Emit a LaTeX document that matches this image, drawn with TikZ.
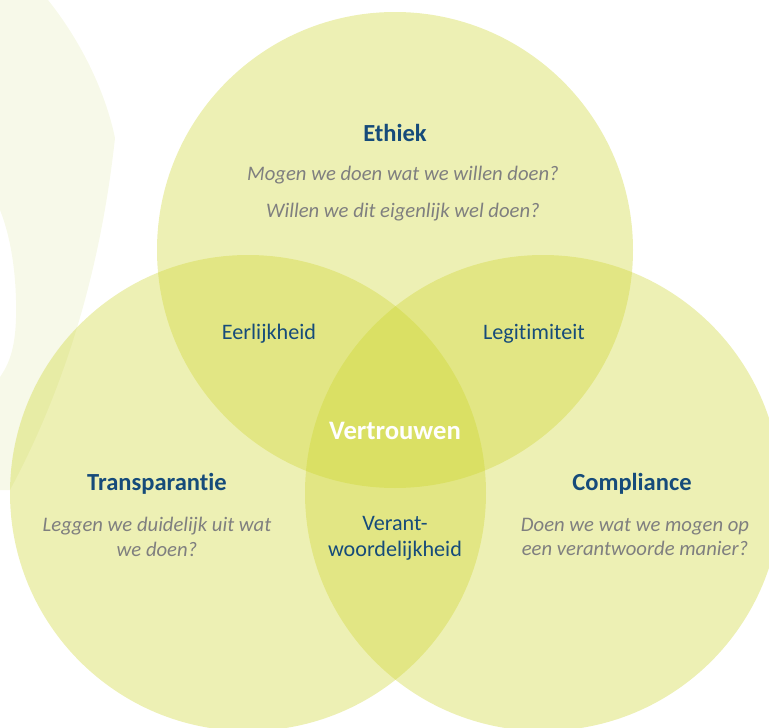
\documentclass[tikz,border=0pt]{standalone}
\usepackage{fontspec}
\setmainfont{Carlito}[Ligatures=NoCommon]
\definecolor{venGreen}{RGB}{204,212,41}
\definecolor{paleGreen}{RGB}{247,249,233}
\definecolor{titleBlue}{RGB}{22,75,122}
\definecolor{askGray}{RGB}{127,127,127}

\begin{document}
\begin{tikzpicture}[x=0.75pt,y=-0.75pt]
\tikzstyle{every node}=[font=\fontsize{16.6}{19.5}\selectfont, align=center]
\tikzstyle{circ}=[fill=venGreen, fill opacity=0.35]
\tikzstyle{title}=[text=titleBlue, font=\fontsize{18.4}{21}\selectfont\bfseries]
\tikzstyle{ask}=[text=askGray, font=\fontsize{15.5}{18.5}\selectfont\itshape]
\tikzstyle{pair}=[text=titleBlue]

  \useasboundingbox (0,0) rectangle (769,728);

  % faint band at the left
  \fill[paleGreen] (0,0) -- (48,0) .. controls (80,40) and (105,90) .. (115,138)
    .. controls (105,230) and (80,360) .. (10,490) -- (0,490) -- (0,377)
    .. controls (12,360) and (17,340) .. (16,300)
    .. controls (15,260) and (8,230) .. (0,210) -- cycle;

  \fill[circ] (395,250) circle (178.5pt);
  \fill[circ] (248,493) circle (178.5pt);
  \fill[circ] (543,493) circle (178.5pt);

  \node[title] (ethiek) at (395,133) {Ethiek};
  \node[ask] (ethiekA) at (403,175) {Mogen we doen wat we willen doen?};
  \node[ask] (ethiekB) at (403,212) {Willen we dit eigenlijk wel doen?};

  \node[title] (transp) at (157,484) {Transparantie};
  \node[ask] (transpA) at (157,537) {Leggen we duidelijk uit wat\\we doen?};

  \node[title] (compl) at (632,484) {Compliance};
  \node[ask] (complA) at (635,537) {Doen we wat we mogen op\\een verantwoorde manier?};

  \node[pair] (eerlijk) at (269,334) {Eerlijkheid};
  \node[pair] (legitiem) at (534,334) {Legitimiteit};
  \node[pair] (verant) at (395,538) {Verant-\\woordelijkheid};

  \node[text=white, font=\fontsize{20}{23}\selectfont\bfseries] (vertrouwen) at (395,431) {Vertrouwen};

\end{tikzpicture}
\end{document}
